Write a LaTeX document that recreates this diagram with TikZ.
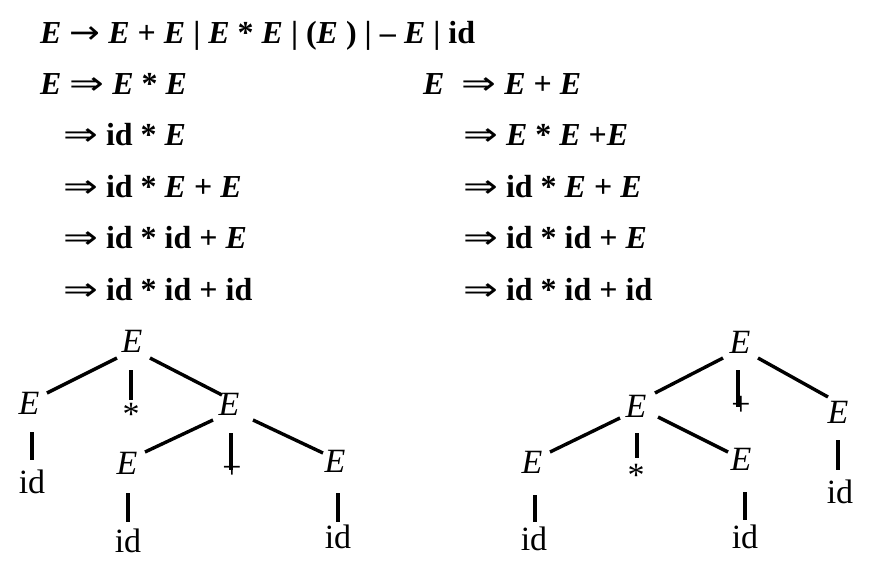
\documentclass[tikz,border=0pt]{standalone}
\usepackage{graphicx}
\usepackage{fontspec}
\setmainfont{Liberation Serif}
\newfontfamily\arrfont{DejaVu Sans}
\usetikzlibrary{calc}
\newcommand\VE{\textbf{\textit{E}}}
\newcommand\vid{\textbf{id}}
\newcommand\DA{{\arrfont\mdseries\scalebox{1.3}[1]{⇒}}}
\newcommand\RA{{\arrfont\mdseries\scalebox{1.15}[1]{→}}}
\tikzset{
  row/.style={anchor=base west, inner sep=0pt, font=\fontsize{32}{38}\selectfont\bfseries},
  tn/.style={anchor=base, inner sep=0pt, font=\fontsize{34}{40}\selectfont},
  edge/.style={line width=3.4pt}
}
\begin{document}
\begin{tikzpicture}[x=1pt,y=-1pt]
\useasboundingbox (0,0) rectangle (894,570);
\fill[white] (0,0) rectangle (894,570);
% grammar and derivations
\node[row] (g0) at (40,43) {\VE{} \RA{} \VE{} + \VE{} | \VE{} * \VE{} | (\VE{} ) | -- \VE{} | \vid};
\node[row] (l1) at (40,94) {\VE{} \DA{} \VE{} * \VE};
\node[row] (l2) at (63,145) {\DA{} \vid{} * \VE};
\node[row] (l3) at (63,197) {\DA{} \vid{} * \VE{} + \VE};
\node[row] (l4) at (63,248) {\DA{} \vid{} * \vid{} + \VE};
\node[row] (l5) at (63,300) {\DA{} \vid{} * \vid{} + \vid};
\node[row] (r1) at (423,94) {\VE\hspace{17pt}\DA{} \VE{} + \VE};
\node[row] (r2) at (463,145) {\DA{} \VE{} * \VE{} +\VE};
\node[row] (r3) at (463,197) {\DA{} \vid{} * \VE{} + \VE};
\node[row] (r4) at (463,248) {\DA{} \vid{} * \vid{} + \VE};
\node[row] (r5) at (463,300) {\DA{} \vid{} * \vid{} + \vid};
% left tree
\node[tn] (eT) at (132,352) {\textit{E}};
\node[tn] (eL) at (29,414) {\textit{E}};
\node[tn] (st1) at (131,425) {*};
\node[tn] (eR) at (229,415) {\textit{E}};
\node[tn] (idL) at (32,493) {id};
\node[tn] (eA) at (127,474) {\textit{E}};
\node[tn] (pl1) at (232,478) {+};
\node[tn] (eB) at (335,472) {\textit{E}};
\node[tn] (idA) at (128,552) {id};
\node[tn] (idB) at (338,548) {id};
\draw[edge] ($(eT.base)+(-15,6)$) -- ($(eL.base)+(18,-21)$);
\draw[edge] ($(eT.base)+(-1,18)$) -- ($(st1.base)+(0,-25)$);
\draw[edge] ($(eT.base)+(18,6)$) -- ($(eR.base)+(-7,-20)$);
\draw[edge] ($(eL.base)+(3,18)$) -- ($(idL.base)+(0,-33)$);
\draw[edge] ($(eR.base)+(-16,5)$) -- ($(eA.base)+(18,-22)$);
\draw[edge] ($(eR.base)+(2,18)$) -- ($(pl1.base)+(-1,-8)$);
\draw[edge] ($(eR.base)+(24,5)$) -- ($(eB.base)+(-12,-19)$);
\draw[edge] ($(eA.base)+(1,19)$) -- ($(idA.base)+(0,-30)$);
\draw[edge] ($(eB.base)+(3,21)$) -- ($(idB.base)+(0,-26)$);
% right tree
\node[tn] (fT) at (740,353) {\textit{E}};
\node[tn] (fL) at (636,417) {\textit{E}};
\node[tn] (pl2) at (741,415) {+};
\node[tn] (fR) at (838,423) {\textit{E}};
\node[tn] (fA) at (532,473) {\textit{E}};
\node[tn] (st2) at (636,486) {*};
\node[tn] (fB) at (741,470) {\textit{E}};
\node[tn] (idR) at (840,503) {id};
\node[tn] (idA2) at (534,550) {id};
\node[tn] (idB2) at (745,548) {id};
\draw[edge] ($(fT.base)+(-17,5)$) -- ($(fL.base)+(19,-24)$);
\draw[edge] ($(fT.base)+(-2,17)$) -- ($(pl2.base)+(-3,-8)$);
\draw[edge] ($(fT.base)+(18,5)$) -- ($(fR.base)+(-10,-26)$);
\draw[edge] ($(fL.base)+(-16,1)$) -- ($(fA.base)+(18,-21)$);
\draw[edge] ($(fL.base)+(1,16)$) -- ($(st2.base)+(1,-28)$);
\draw[edge] ($(fL.base)+(22,0)$) -- ($(fB.base)+(-13,-18)$);
\draw[edge] ($(fR.base)+(0,17)$) -- ($(idR.base)+(-2,-33)$);
\draw[edge] ($(fA.base)+(3,22)$) -- ($(idA2.base)+(1,-28)$);
\draw[edge] ($(fB.base)+(4,22)$) -- ($(idB2.base)+(0,-28)$);
\end{tikzpicture}
\end{document}
